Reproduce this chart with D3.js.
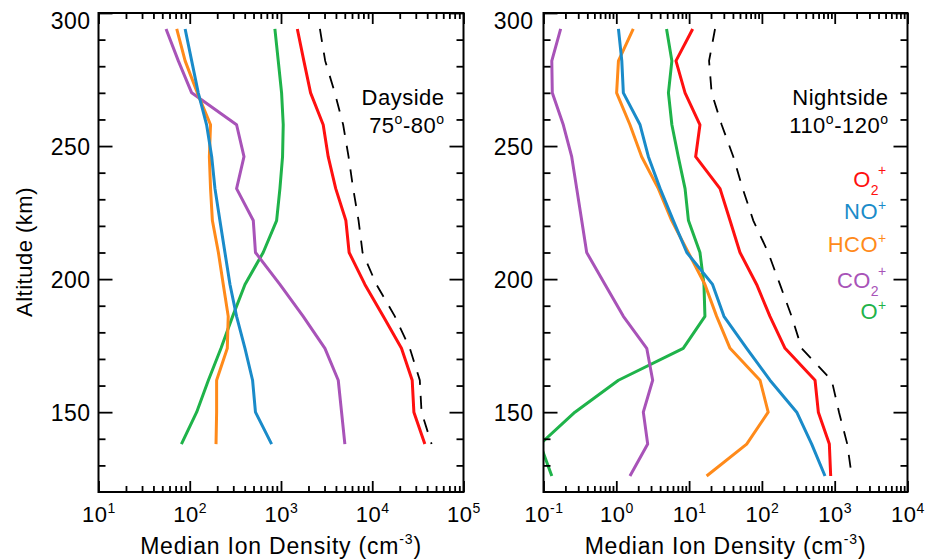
<!DOCTYPE html>
<html><head><meta charset="utf-8">
<script src="https://cdn.jsdelivr.net/npm/d3@7"></script>
<style>
body{margin:0;background:#fff}
text{font-family:"Liberation Sans",Arial,Helvetica,sans-serif;fill:#000}
</style>
</head><body>
<svg id="chart" width="930" height="560"></svg>
<script>
// ---------- data ----------
const altDay = [294,282,270,258,246,234,222,210,198,186,174,162,150,138];
const altNight = [294,282,270,258,246,234,222,210,198,186,174,162,150,138,126];

const dayO2    = [1510,1780,2110,2900,3290,3980,5140,5580,8300,13200,20900,27400,28600,37700];
const dayNO    = [89,105,124,153,174,189,214,243,276,326,403,488,525,789];
const dayHCO   = [72,89,121,169,164,169,177,206,233,264,258,197,197,194];
const dayCO2   = [55,75,105,326,393,326,497,525,972,1750,3030,4240,4610,5010];
const dayO     = [857,933,1015,1058,1040,973,895,638,403,295,220,160,119,81];
const dayTotal = [2670,3050,3890,4800,5500,6180,7080,7830,11100,17700,25800,33200,34700,44700];

const nightO2    = [11.2,6.6,8.8,14.1,12.3,26.6,36.5,50,84.7,129,208,537,596,844,881];
const nightNO    = [1.07,1.19,1.25,2.12,2.76,4.0,6.07,9.3,21,30.1,61.8,129,301,483,736];
const nightHCO   = [1.71,1.07,1.01,1.54,2.23,3.78,5.77,9.75,16.5,23.9,36.5,94.2,122,61.8,17.4];
const nightCO2   = [0.172,0.13,0.132,0.187,0.244,0.286,0.335,0.392,0.7,1.25,2.62,3.16,2.35,2.7,1.54];
const nightO     = [4.9,5.8,5.2,5.8,7.1,8.8,9.8,14.1,16,16.5,8.3,1.07,0.27,0.09,0.13];
const nightTotal = [22.7,18.8,20.4,28,40.5,54.5,76.2,122,177,256,352,909,1146,1489,1713];

const ionNames  = ["O2+","NO+","HCO+","CO2+","O+"];
const ionColors = ["#ff1010","#1a8bc9","#ff8a1a","#a853b8","#1fb34a"];
const dayDecades = [1e1,1e2,1e3,1e4,1e5];
const nightDecades = [1e-1,1e0,1e1,1e2,1e3,1e4];
const altMajor = [150,200,250,300];
const altMinor = [130,140,160,170,180,190,210,220,230,240,260,270,280,290];

// ---------- layout ----------
const svg = d3.select("#chart");
const yTop = 13, yBot = 492;
const y = d3.scaleLinear().domain([120,300]).range([yBot, yTop]);

function minorTicks(decades){
  const out=[];
  for(let i=0;i<decades.length-1;i++) for(let k=2;k<=9;k++) out.push(decades[i]*k);
  return out;
}

function panel(id, x, decades, alts, series, total, label1, label2, legend, ylabGap){
  const [x0,x1] = x.range();
  const g = svg.append("g");
  g.append("clipPath").attr("id","clip"+id).append("rect")
    .attr("x",x0).attr("y",yTop).attr("width",x1-x0).attr("height",yBot-yTop);

  const line = d3.line().x(d=>x(d[0])).y(d=>y(d[1]));
  const lg = g.append("g").attr("clip-path",`url(#clip${id})`);
  lg.append("path").datum(total.map((v,i)=>[v,alts[i]]))
    .attr("d",line).attr("fill","none").attr("stroke","#000")
    .attr("stroke-width",1.8).attr("stroke-dasharray","13,11");
  [0,4,3,2,1].forEach(k=>{
    lg.append("path").datum(series[k].map((v,i)=>[v,alts[i]]))
      .attr("d",line).attr("fill","none").attr("stroke",ionColors[k])
      .attr("stroke-width",3).attr("stroke-linejoin","round");
  });

  const tickStyle = s => s.selectAll("line").attr("stroke","#000").attr("stroke-width",1.8);
  const hideDomain = s => s.select(".domain").remove();
  const minors = minorTicks(decades);
  g.append("g").attr("transform",`translate(0,${yBot})`)
    .call(d3.axisBottom(x).tickValues(minors).tickSize(-6).tickFormat("")).call(hideDomain).call(tickStyle);
  g.append("g").attr("transform",`translate(0,${yTop})`)
    .call(d3.axisTop(x).tickValues(minors).tickSize(-6).tickFormat("")).call(hideDomain).call(tickStyle);
  g.append("g").attr("transform",`translate(0,${yTop})`)
    .call(d3.axisTop(x).tickValues(decades).tickSize(-11).tickFormat("")).call(hideDomain).call(tickStyle);
  const bx = g.append("g").attr("transform",`translate(0,${yBot})`)
    .call(d3.axisBottom(x).tickValues(decades).tickSize(-11).tickPadding(24).tickFormat(""))
    .call(hideDomain).call(tickStyle);
  bx.selectAll(".tick text").each(function(d){
    const t = d3.select(this).attr("font-size",22).attr("font-family",null).attr("fill","#000")
      .attr("y",30).attr("dy",null).style("letter-spacing","0.5px");
    t.text(null);
    t.append("tspan").text("10");
    t.append("tspan").attr("font-size",14).attr("dy",-9).text(Math.round(Math.log10(d)));
  });

  g.append("g").attr("transform",`translate(${x0},0)`)
    .call(d3.axisLeft(y).tickValues(altMinor).tickSize(-7).tickFormat("")).call(hideDomain).call(tickStyle);
  g.append("g").attr("transform",`translate(${x1},0)`)
    .call(d3.axisRight(y).tickValues(altMinor).tickSize(-7).tickFormat("")).call(hideDomain).call(tickStyle);
  g.append("g").attr("transform",`translate(${x1},0)`)
    .call(d3.axisRight(y).tickValues(altMajor).tickSize(-14).tickFormat("")).call(hideDomain).call(tickStyle);
  const ly = g.append("g").attr("transform",`translate(${x0},0)`)
    .call(d3.axisLeft(y).tickValues(altMajor).tickSize(-14).tickPadding(30).tickFormat(d3.format("d")))
    .call(hideDomain).call(tickStyle);
  ly.selectAll(".tick text").attr("font-size",23).attr("font-family",null).attr("fill","#000")
    .style("letter-spacing","0.5px")
    .attr("x",-ylabGap).attr("dy",d=> d===300 ? "0.66em" : "0.36em");

  g.append("rect").attr("x",x0).attr("y",yTop).attr("width",x1-x0).attr("height",yBot-yTop)
    .attr("fill","none").attr("stroke","#000").attr("stroke-width",2);

  const xt = g.append("text").attr("x",(x0+x1)/2).attr("y",554).attr("text-anchor","middle")
    .attr("font-size",23).style("letter-spacing","0.8px");
  xt.append("tspan").text("Median Ion Density (cm");
  xt.append("tspan").attr("font-size",14).attr("dy",-10).text("-3");
  xt.append("tspan").attr("dy",10).text(")");

  const ax = x1 - 19;
  g.append("text").attr("x",ax).attr("y",105).attr("text-anchor","end").attr("font-size",22)
    .style("letter-spacing","0.5px").text(label1);
  const t2 = g.append("text").attr("x",ax).attr("y",133).attr("text-anchor","end").attr("font-size",22)
    .style("letter-spacing","0.5px");
  t2.append("tspan").text(label2[0]);
  t2.append("tspan").attr("font-size",14).attr("dy",-9).text("o");
  t2.append("tspan").attr("dy",9).text("-"+label2[1]);
  t2.append("tspan").attr("font-size",14).attr("dy",-9).text("o");

  if(legend){
    const baselines = [187,219,252,288,319];
    ionNames.forEach((name,k)=>{
      const t = g.append("text").attr("x",x1-21).attr("y",baselines[k]).attr("text-anchor","end")
        .attr("font-size",22).style("letter-spacing","0.4px").style("fill",ionColors[k]);
      const base = name.replace("2+","").replace("+","");
      t.append("tspan").text(base);
      if(name.includes("2+")){
        t.append("tspan").attr("font-size",14).attr("dy",8).text("2");
        t.append("tspan").attr("font-size",14).attr("dy",-20).attr("dx",-1).text("+");
      } else {
        t.append("tspan").attr("font-size",14).attr("dy",-9).text("+");
      }
    });
  }
}

const xDay = d3.scaleLog().domain([1e1,1e5]).range([98.5,463.5]);
const xNight = d3.scaleLog().domain([1e-1,1e4]).range([543.5,907.5]);

panel("d", xDay, dayDecades, altDay, [dayO2,dayNO,dayHCO,dayCO2,dayO], dayTotal,
      "Dayside", ["75","80"], false, 8);
panel("n", xNight, nightDecades, altNight, [nightO2,nightNO,nightHCO,nightCO2,nightO], nightTotal,
      "Nightside", ["110","120"], true, 10);

svg.append("text").attr("transform","translate(32,252) rotate(-90)").attr("text-anchor","middle")
  .attr("font-size",22).style("letter-spacing","0.5px").text("Altitude (km)");
</script>
</body></html>
